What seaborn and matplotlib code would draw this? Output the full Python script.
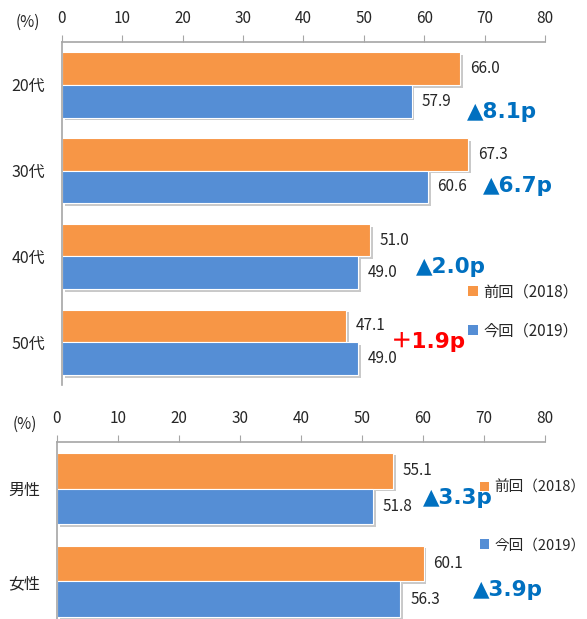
import pandas as pd
import seaborn as sns
import matplotlib.pyplot as plt
import matplotlib.patheffects as pe
from matplotlib.patches import Patch

# data
ages = ["20代", "30代", "40代", "50代"]
age_prev = [66.0, 67.3, 51.0, 47.1]
age_curr = [57.9, 60.6, 49.0, 49.0]
age_diff = ["▲8.1p", "▲6.7p", "▲2.0p", "＋1.9p"]

sexes = ["男性", "女性"]
sex_prev = [55.1, 60.1]
sex_curr = [51.8, 56.3]
sex_diff = ["▲3.3p", "▲3.9p"]

series = ["前回（2018）", "今回（2019）"]
colors = ["#F79646", "#558ED5"]

sns.set_style("white")
plt.rcParams['font.family'] = ['Noto Sans CJK JP', 'DejaVu Sans']

df_age = pd.DataFrame({"区分": ages * 2,
                       "回": [series[0]] * len(ages) + [series[1]] * len(ages),
                       "値": age_prev + age_curr})
df_sex = pd.DataFrame({"区分": sexes * 2,
                       "回": [series[0]] * len(sexes) + [series[1]] * len(sexes),
                       "値": sex_prev + sex_curr})

fig = plt.figure(figsize=(5.87, 6.19), dpi=100)
ax1 = fig.add_axes([0.1056, 0.378, 0.8228, 0.554])
ax2 = fig.add_axes([0.0971, -0.0145, 0.8314, 0.3004])

shadow = [pe.SimplePatchShadow(offset=(2, -2), shadow_rgbFace="#888888", alpha=0.45), pe.Normal()]
grey = "#A6A6A6"


def style_axis(ax, data, cats, width):
    sns.barplot(data=data, x="値", y="区分", hue="回", palette=colors, orient="h",
                width=width, saturation=1, ax=ax, edgecolor="white", linewidth=0.8)
    for p in ax.patches:
        p.set_path_effects(shadow)
    for c in ax.containers:
        ax.bar_label(c, fmt="%.1f", padding=7, fontsize=11, color="#262626")
    ax.set_xlim(0, 80)
    ax.set_ylim(len(cats) - 0.5, -0.5)
    ax.set_xticks(range(0, 81, 10))
    ax.xaxis.tick_top()
    ax.tick_params(axis="x", direction="out", length=5, color=grey, pad=6,
                   labelsize=11, labelcolor="#262626")
    ax.set_yticks(range(len(cats)))
    ax.set_yticks([i - 0.5 for i in range(len(cats) + 1)], minor=True)
    ax.tick_params(axis="y", which="major", length=0, pad=12, labelsize=11.5,
                   labelcolor="#262626")
    ax.tick_params(axis="y", which="minor", length=6, color=grey, direction="out")
    ax.set_xlabel("")
    ax.set_ylabel("")
    for s in ["right", "bottom"]:
        ax.spines[s].set_visible(False)
    for s in ["top", "left"]:
        ax.spines[s].set_color(grey)
        ax.spines[s].set_linewidth(1.2)
    ax.get_legend().remove()


style_axis(ax1, df_age, ages, 0.76)
style_axis(ax2, df_sex, sexes, 0.77)

# difference annotations
age_pos = [(67.0, 0.32), (69.7, 1.18), (58.6, 2.12), (54.5, 3.0)]
for txt, (x, y) in zip(age_diff, age_pos):
    col = "#FF0000" if txt.startswith("＋") else "#0070C0"
    ax1.text(x, y, txt, color=col, fontsize=15.5, fontweight="bold", va="center",
             family=['DejaVu Sans', 'Noto Sans CJK JP'])
sex_pos = [(60.0, 0.1), (68.2, 1.09)]
for txt, (x, y) in zip(sex_diff, sex_pos):
    ax2.text(x, y, txt, color="#0070C0", fontsize=15.5, fontweight="bold", va="center",
             family=['DejaVu Sans', 'Noto Sans CJK JP'])

handles = [Patch(facecolor=c, edgecolor="none") for c in colors]
fig.legend(handles, series, loc="upper left", bbox_to_anchor=(0.797, 0.542),
           frameon=False, fontsize=11,
           labelspacing=1.42, handlelength=0.65, handleheight=0.65, handletextpad=0.35,
           borderpad=0, borderaxespad=0)
fig.legend(handles, series, loc="upper left", bbox_to_anchor=(0.817, 0.224),
           frameon=False, fontsize=10.5,
           labelspacing=3.0, handlelength=0.65, handleheight=0.65, handletextpad=0.35,
           borderpad=0, borderaxespad=0)

fig.text(28 / 587, 1 - 22 / 619, "(%)", fontsize=11, ha="center", va="center", color="#262626")
fig.text(25 / 587, 1 - 424 / 619, "(%)", fontsize=11, ha="center", va="center", color="#262626")

fig.savefig("out.png", dpi=100)
